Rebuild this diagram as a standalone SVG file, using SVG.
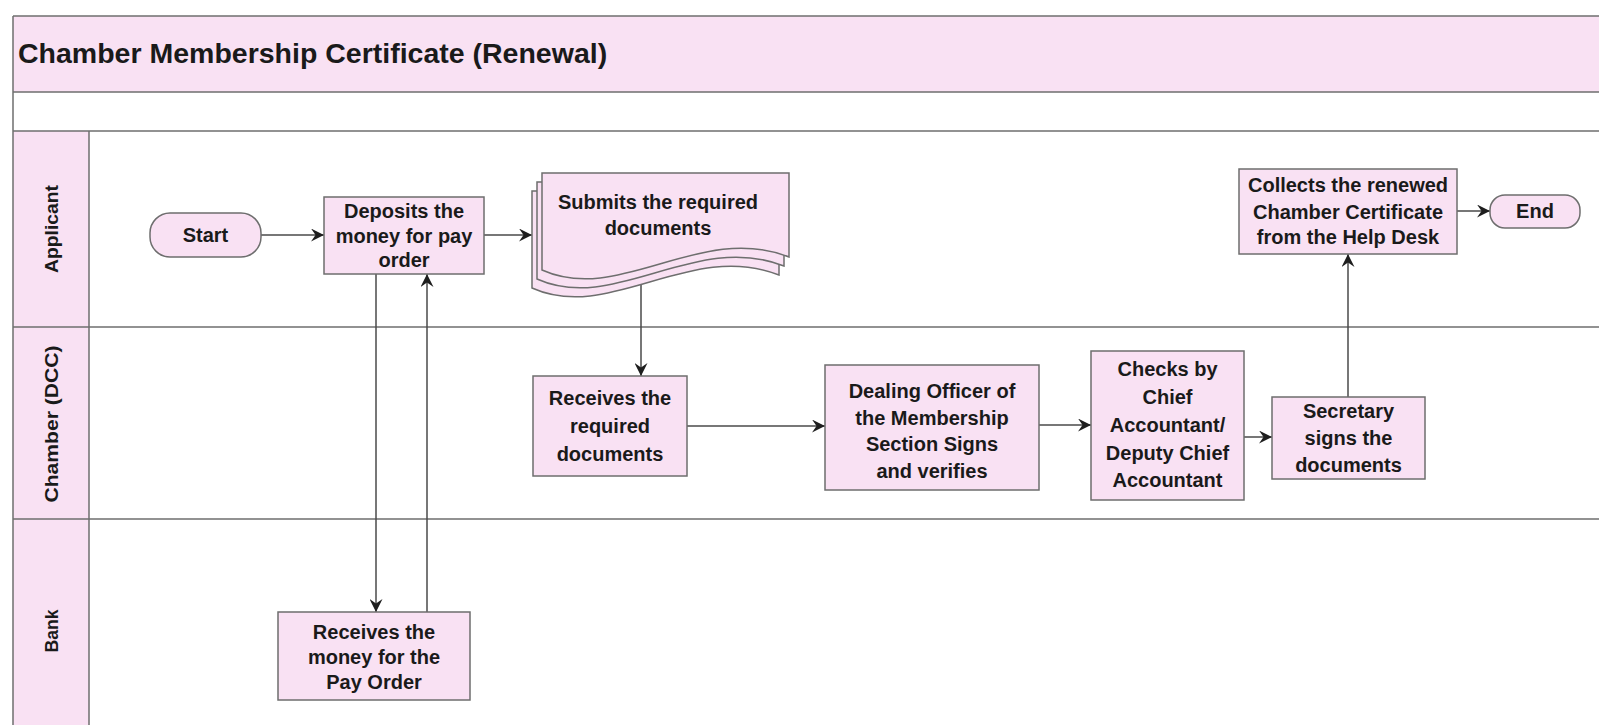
<svg xmlns="http://www.w3.org/2000/svg" width="1599" height="725" viewBox="0 0 1599 725">
<style>
.pink{fill:#f9e1f3}
.ln{stroke:#6f6f6f;stroke-width:1.5;fill:none}
.box{fill:#f9e1f3;stroke:#6e6e6e;stroke-width:1.5}
.t{font-family:"Liberation Sans",Arial,sans-serif;font-weight:bold;font-size:20px;fill:#1a1a1a;text-anchor:middle}
.title{font-family:"Liberation Sans",Arial,sans-serif;font-weight:bold;font-size:28.5px;fill:#1a1a1a}
.lane{font-family:"Liberation Sans",Arial,sans-serif;font-weight:bold;font-size:19px;fill:#1a1a1a;text-anchor:middle}
.conn{stroke:#4a4a4a;stroke-width:1.5;fill:none;marker-end:url(#ah)}
</style>
<defs>
<marker id="ah" viewBox="0 0 10 10" refX="10" refY="5" markerWidth="13" markerHeight="13" markerUnits="userSpaceOnUse" orient="auto">
<path d="M0,0 L10,5 L0,10 L3.5,5 Z" fill="#1e1e1e"/>
</marker>
<path id="docpage" d="M542,173 H789 V257 C700,222 620,305 542,270 Z"/>
</defs>
<rect x="0" y="0" width="1599" height="725" fill="#ffffff"/>

<g id="pool">
<rect x="13" y="16" width="1590" height="76" class="pink"/>
<rect x="13" y="131" width="76" height="600" class="pink"/>
<path class="ln" d="M13,16 H1599 M13,92 H1599 M13,131 H1599 M13,327 H1599 M13,519 H1599 M13,16 V725 M89,131 V725"/>
<text class="title" x="18" y="63">Chamber Membership Certificate (Renewal)</text>
<text class="lane" transform="translate(58,229) rotate(-90)" textLength="88" lengthAdjust="spacingAndGlyphs">Applicant</text>
<text class="lane" transform="translate(58,424) rotate(-90)" textLength="157" lengthAdjust="spacingAndGlyphs">Chamber (DCC)</text>
<text class="lane" transform="translate(58,631) rotate(-90)" textLength="43" lengthAdjust="spacingAndGlyphs">Bank</text>
</g>

<g id="connectors">
<line class="conn" x1="261" y1="235" x2="324" y2="235"/>
<line class="conn" x1="484" y1="235" x2="532" y2="235"/>
<line class="conn" x1="376" y1="274" x2="376" y2="612"/>
<line class="conn" x1="427" y1="612" x2="427" y2="274"/>
<line class="conn" x1="641" y1="285" x2="641" y2="376"/>
<line class="conn" x1="687" y1="426" x2="825" y2="426"/>
<line class="conn" x1="1039" y1="425" x2="1091" y2="425"/>
<line class="conn" x1="1244" y1="437" x2="1272" y2="437"/>
<line class="conn" x1="1348" y1="397" x2="1348" y2="254"/>
<line class="conn" x1="1457" y1="211" x2="1490" y2="211"/>
</g>

<g id="start">
<rect class="box" x="150" y="213" width="111" height="44" rx="20" ry="20"/>
<text class="t" x="205.5" y="242">Start</text>
</g>

<g id="deposits">
<rect class="box" x="324" y="197" width="160" height="77"/>
<text class="t" x="404" y="218">Deposits the</text>
<text class="t" x="404" y="242.5">money for pay</text>
<text class="t" x="404" y="267">order</text>
</g>

<g id="submits">
<use href="#docpage" class="box" transform="translate(-10,18)"/>
<use href="#docpage" class="box" transform="translate(-5,9)"/>
<use href="#docpage" class="box"/>
<text class="t" x="658" y="209">Submits the required</text>
<text class="t" x="658" y="235">documents</text>
</g>

<g id="receives-docs">
<rect class="box" x="533" y="376" width="154" height="100"/>
<text class="t" x="610" y="405">Receives the</text>
<text class="t" x="610" y="433">required</text>
<text class="t" x="610" y="461">documents</text>
</g>

<g id="dealing-officer">
<rect class="box" x="825" y="365" width="214" height="125"/>
<text class="t" x="932" y="398">Dealing Officer of</text>
<text class="t" x="932" y="424.5">the Membership</text>
<text class="t" x="932" y="451">Section Signs</text>
<text class="t" x="932" y="477.5">and verifies</text>
</g>

<g id="checks">
<rect class="box" x="1091" y="351" width="153" height="149"/>
<text class="t" x="1167.5" y="376">Checks by</text>
<text class="t" x="1167.5" y="404">Chief</text>
<text class="t" x="1167.5" y="431.5">Accountant/</text>
<text class="t" x="1167.5" y="459.5">Deputy Chief</text>
<text class="t" x="1167.5" y="487">Accountant</text>
</g>

<g id="secretary">
<rect class="box" x="1272" y="397" width="153" height="82"/>
<text class="t" x="1348.5" y="418">Secretary</text>
<text class="t" x="1348.5" y="444.5">signs the</text>
<text class="t" x="1348.5" y="471.5">documents</text>
</g>

<g id="collects">
<rect class="box" x="1239" y="169" width="218" height="85"/>
<text class="t" x="1348" y="192">Collects the renewed</text>
<text class="t" x="1348" y="218.5">Chamber Certificate</text>
<text class="t" x="1348" y="244">from the Help Desk</text>
</g>

<g id="end">
<rect class="box" x="1490" y="195" width="90" height="33" rx="15" ry="15"/>
<text class="t" x="1535" y="218">End</text>
</g>

<g id="bank-receives">
<rect class="box" x="278" y="612" width="192" height="88"/>
<text class="t" x="374" y="638.5">Receives the</text>
<text class="t" x="374" y="663.5">money for the</text>
<text class="t" x="374" y="688.5">Pay Order</text>
</g>
</svg>
